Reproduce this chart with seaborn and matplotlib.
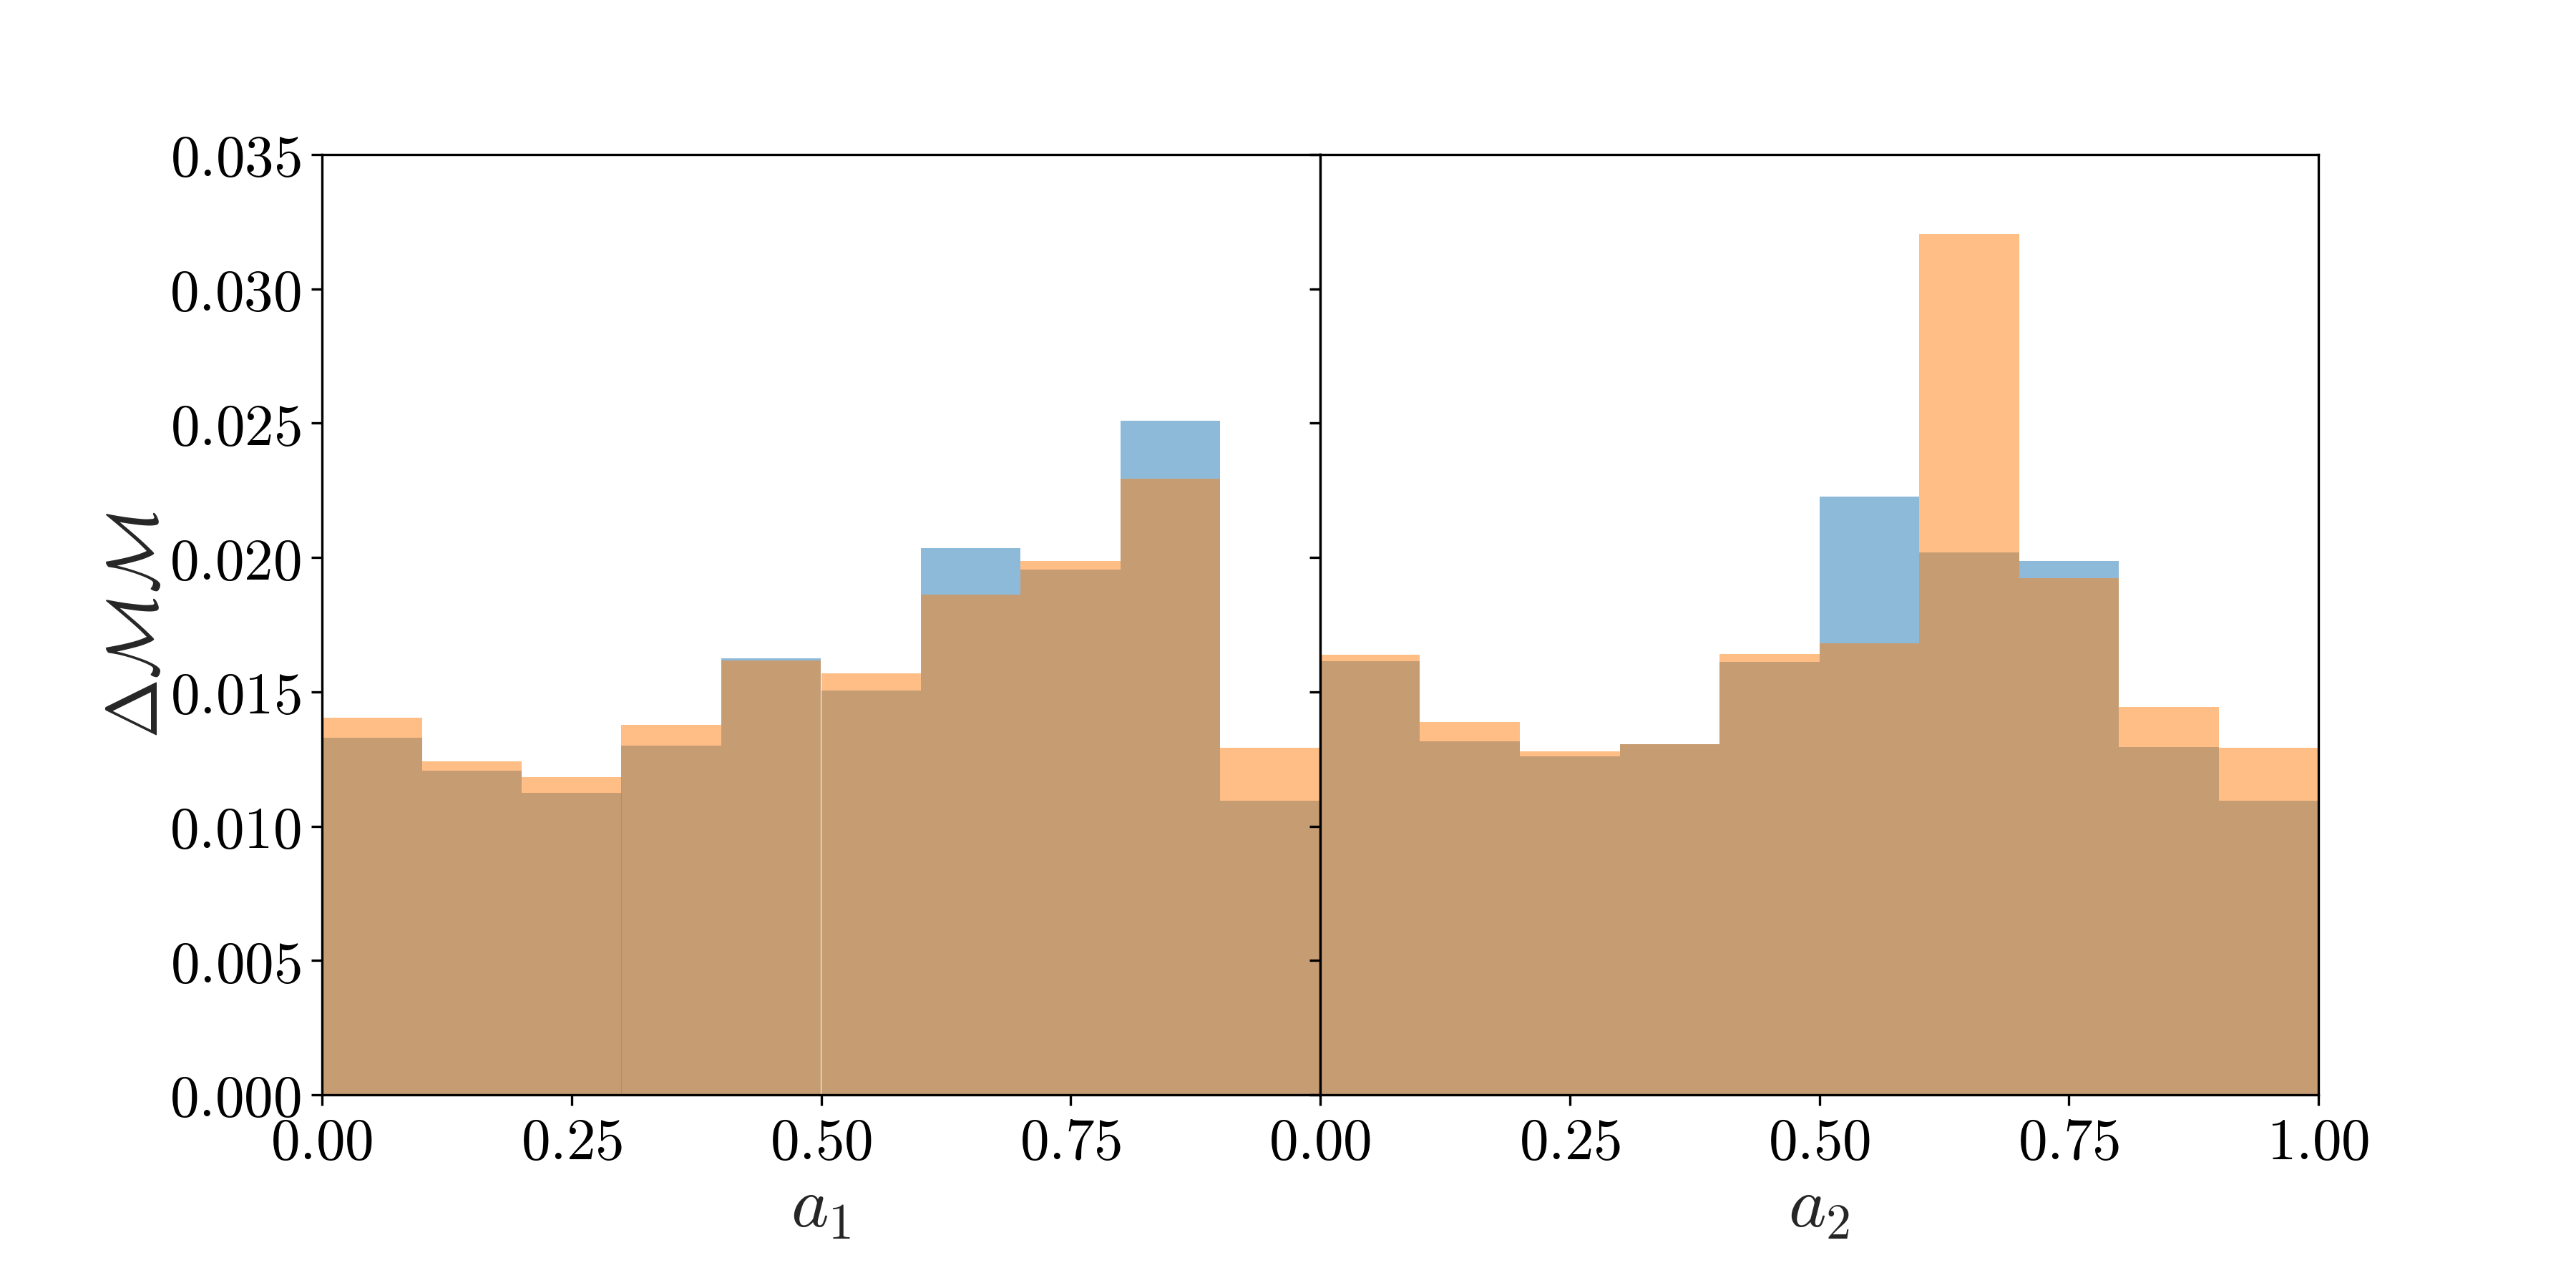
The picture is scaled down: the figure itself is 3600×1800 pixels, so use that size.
import matplotlib
matplotlib.use('Agg')
import matplotlib.pyplot as plt
from matplotlib.ticker import FuncFormatter
import seaborn as sns
import numpy as np

# bin edges shared by both spins
bin_edges = [0.0, 0.1, 0.2, 0.3, 0.4, 0.5, 0.6, 0.7, 0.8, 0.9, 1.0]

# Delta MM per bin
a1_blue = [0.01330, 0.01206, 0.01123, 0.01299, 0.01625, 0.01506, 0.02034, 0.01956, 0.02510, 0.01094]
a1_orange = [0.01404, 0.01242, 0.01183, 0.01378, 0.01618, 0.01570, 0.01863, 0.01987, 0.02294, 0.01292]
a2_blue = [0.01613, 0.01316, 0.01261, 0.01306, 0.01611, 0.02227, 0.02018, 0.01987, 0.01294, 0.01094]
a2_orange = [0.01637, 0.01387, 0.01278, 0.01304, 0.01642, 0.01680, 0.03205, 0.01922, 0.01444, 0.01292]

x_labels = [r'$a_1$', r'$a_2$']
y_label = r'$\Delta\mathcal{MM}$'

sns.set_style('ticks')
plt.rcParams['mathtext.fontset'] = 'cm'
plt.rcParams['axes.linewidth'] = 0.8

fig, axes = plt.subplots(1, 2, figsize=(12, 6), sharey=True)
fig.subplots_adjust(left=0.125, right=0.9, top=0.88, bottom=0.15, wspace=0)

centers = (np.array(bin_edges[:-1]) + np.array(bin_edges[1:])) / 2
panels = [(a1_blue, a1_orange), (a2_blue, a2_orange)]

tex_fmt = FuncFormatter(lambda v, pos: '$%.2f$' % v)
tex_fmt_y = FuncFormatter(lambda v, pos: '$%.3f$' % v)

for i, ax in enumerate(axes):
    blue, orange = panels[i]
    sns.histplot(x=centers, weights=blue, bins=bin_edges, color='tab:blue', alpha=0.5,
                 edgecolor='none', linewidth=0, ax=ax)
    sns.histplot(x=centers, weights=orange, bins=bin_edges, color='tab:orange', alpha=0.5,
                 edgecolor='none', linewidth=0, ax=ax)
    ax.set_xlim(0, 1)
    ax.set_ylim(0, 0.035)
    ax.set_xlabel(x_labels[i], fontsize=24, labelpad=0.5)
    ax.xaxis.set_major_formatter(tex_fmt)
    ax.tick_params(labelsize=19.5, colors='black', length=3.5, width=0.8)
    for s in ax.spines.values():
        s.set_color('black')
        s.set_visible(True)

axes[0].set_xticks([0.0, 0.25, 0.5, 0.75])
axes[1].set_xticks([0.0, 0.25, 0.5, 0.75, 1.0])
axes[0].set_yticks(np.arange(0, 0.0351, 0.005))
axes[0].yaxis.set_major_formatter(tex_fmt_y)
axes[0].set_ylabel(y_label, fontsize=24, labelpad=-1)
axes[1].set_ylabel('')

fig.savefig('out.png', dpi=300)
